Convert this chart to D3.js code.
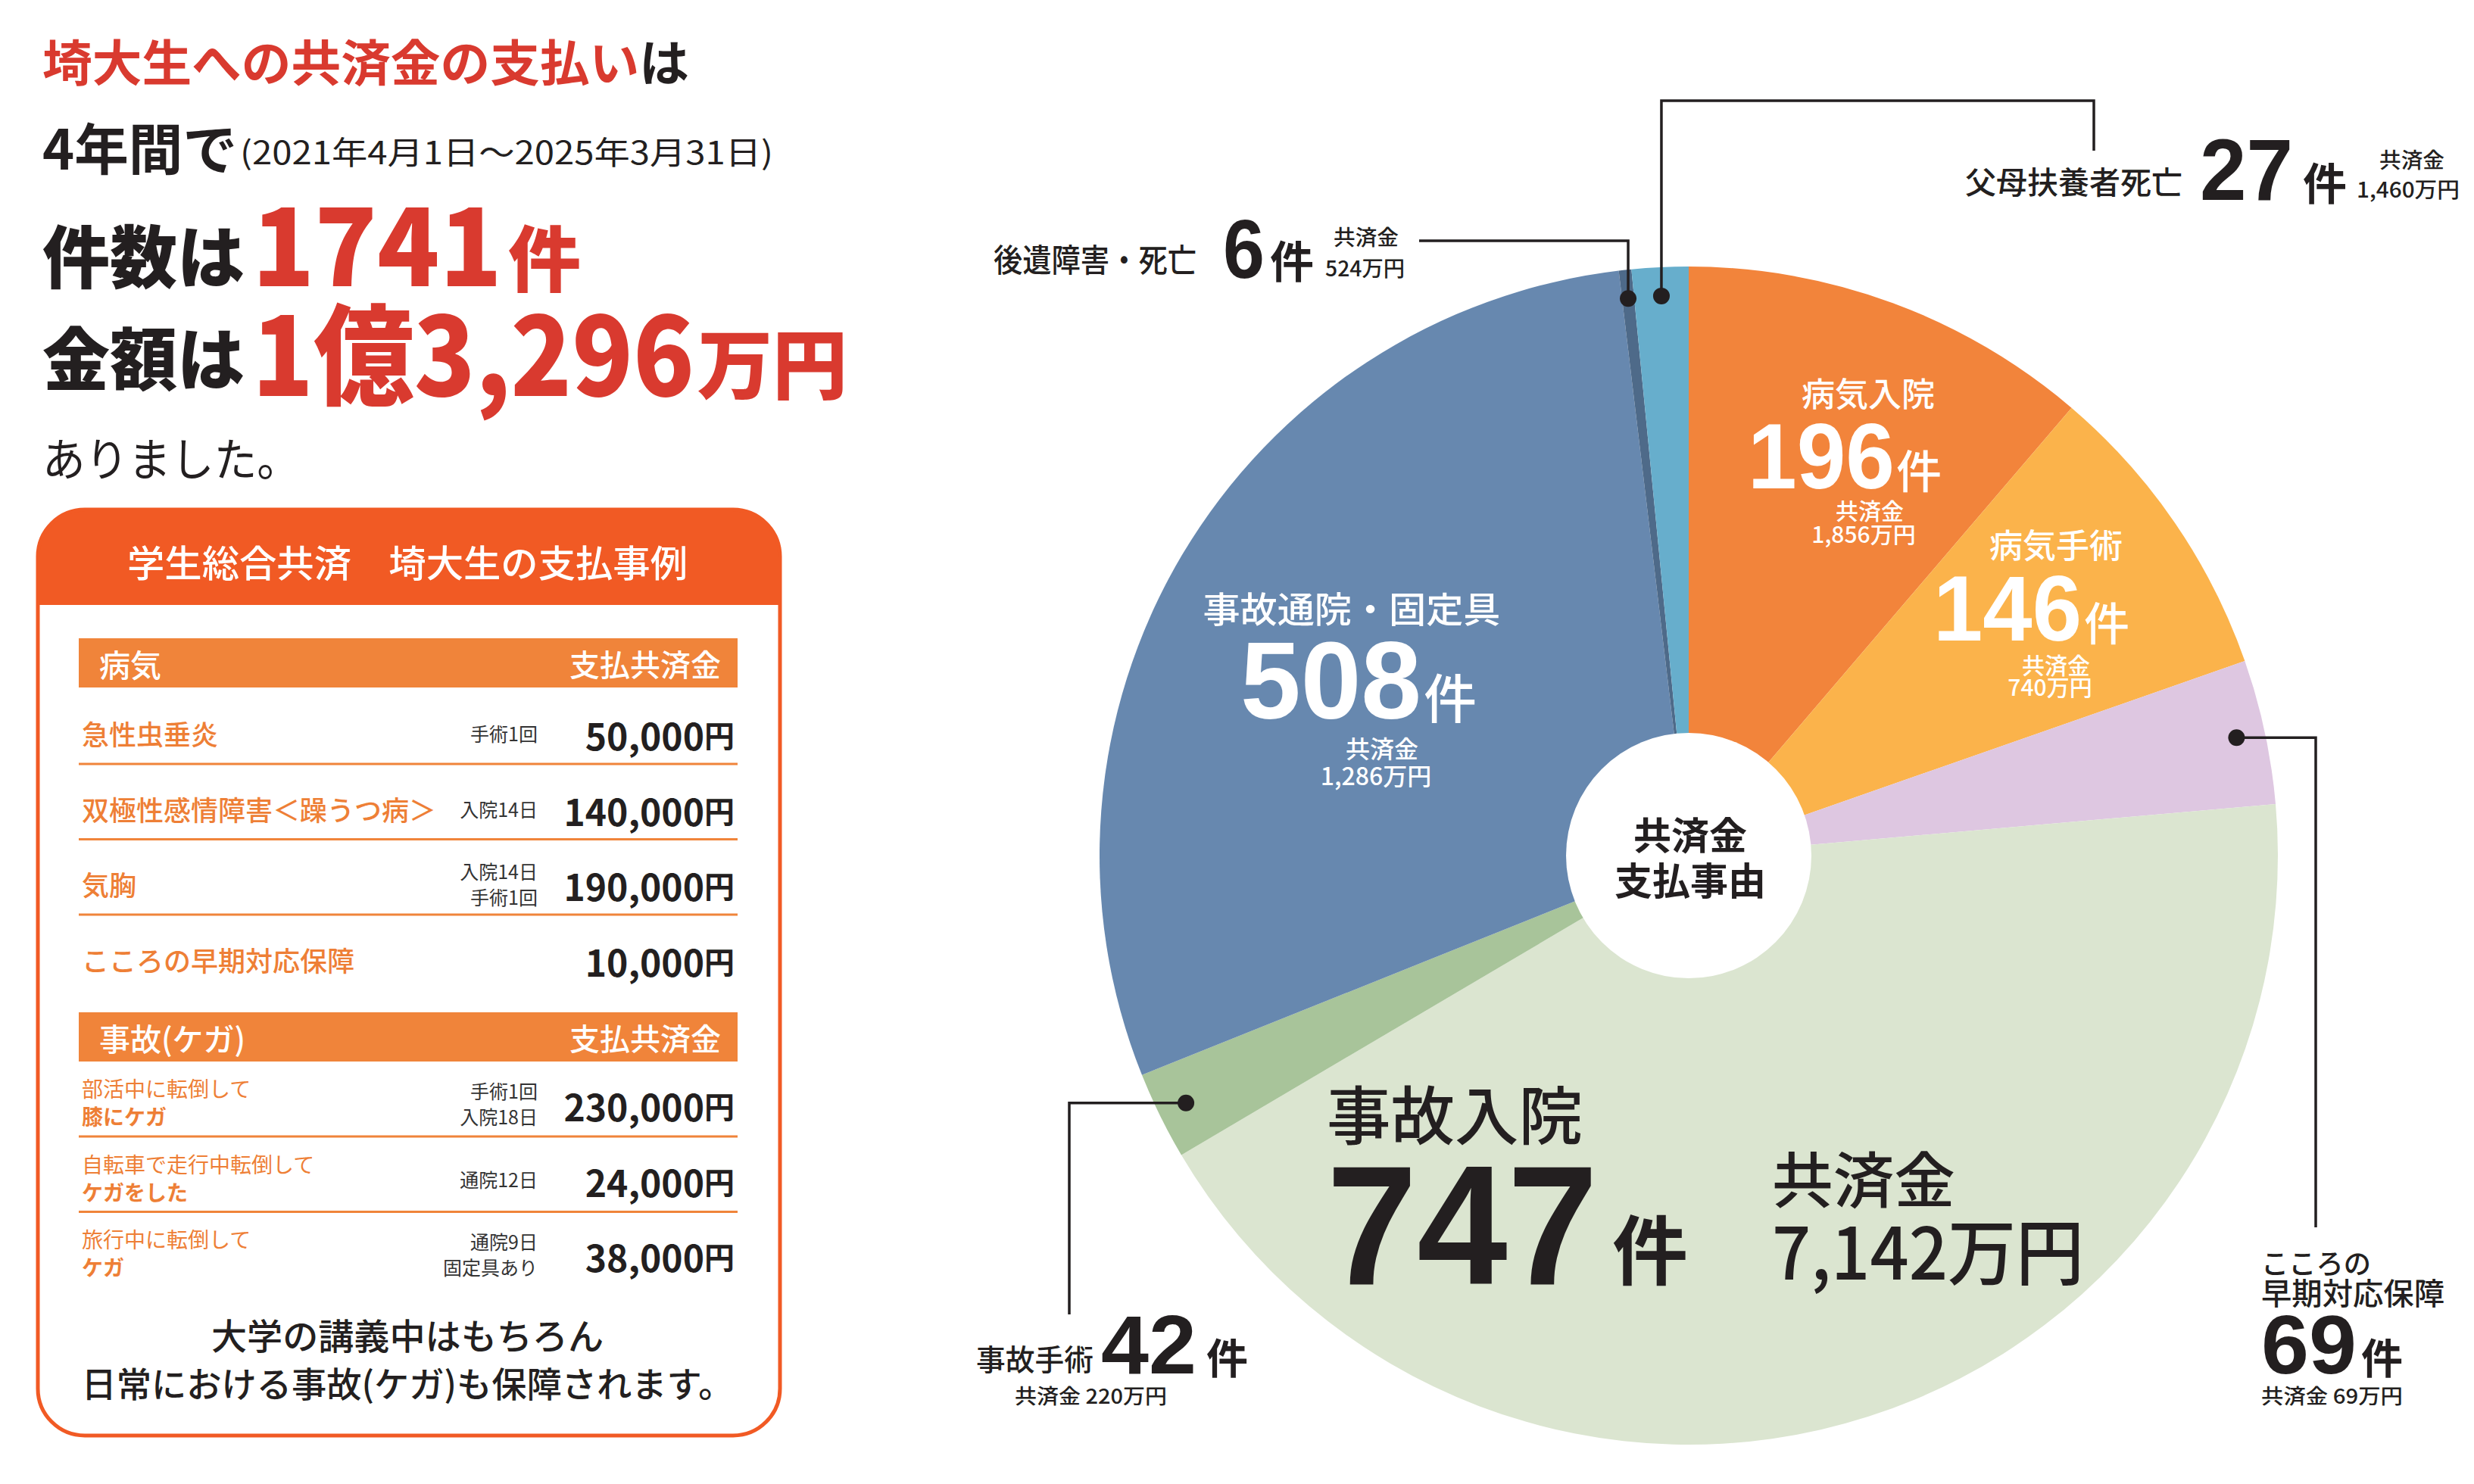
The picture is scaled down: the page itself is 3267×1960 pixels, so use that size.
<!DOCTYPE html>
<html lang="ja">
<head>
<meta charset="utf-8">
<title>埼大生への共済金の支払い</title>
<script src="https://cdn.jsdelivr.net/npm/d3@7"></script>
<style>
  html, body { margin: 0; padding: 0; background: #fff; }
  svg { display: block; }
</style>
</head>
<body>
<script>
// --- data -----------------------------------------------------------
const slices = ["病気入院", "病気手術", "こころの早期対応保障", "事故入院", "事故手術", "事故通院・固定具", "後遺障害・死亡", "父母扶養者死亡"];
const counts = [196, 146, 69, 747, 42, 508, 6, 27];
const amounts = ["1,856万円", "740万円", "69万円", "7,142万円", "220万円", "1,286万円", "524万円", "1,460万円"];
const sliceColors = ["#f2843b", "#fbb34b", "#dec7e1", "#dbe5d0", "#a8c49a", "#6788af", "#4e6a89", "#67aecc"];

const totalAmount = "1億3,296万円";
const period = "(2021年4月1日～2025年3月31日)";

const illnessNames = ["急性虫垂炎", "双極性感情障害＜躁うつ病＞", "気胸", "こころの早期対応保障"];
const illnessDetails = [["手術1回"], ["入院14日"], ["入院14日", "手術1回"], []];
const illnessPaid = ["50,000", "140,000", "190,000", "10,000"];

const injuryLead = ["部活中に転倒して", "自転車で走行中転倒して", "旅行中に転倒して"];
const injuryWhat = ["膝にケガ", "ケガをした", "ケガ"];
const injuryDetails = [["手術1回", "入院18日"], ["通院12日"], ["通院9日", "固定具あり"]];
const injuryPaid = ["230,000", "24,000", "38,000"];

// --- setup ----------------------------------------------------------
const W = 3267, H = 1960;
const FONT = "'Noto Sans CJK JP','Noto Sans',sans-serif";
const NUMFONT = "'Liberation Sans','Noto Sans CJK JP',sans-serif";
const INK = "#231f20", RED = "#d93a2f", HEAD = "#f15a24", BAR = "#f0843a", ROWTXT = "#ee7f36";

const svg = d3.select("body").append("svg")
    .attr("width", W)
    .attr("height", H)
    .attr("font-family", FONT);

svg.append("rect").attr("width", W).attr("height", H).attr("fill", "#fff");

// text helper: o = {x, y, t, size, weight, fill, anchor, base, w, font}
function put(g, o) {
    const t = g.append("text")
        .attr("x", o.x)
        .attr("y", o.y)
        .attr("font-size", o.size)
        .attr("font-weight", o.weight || 400)
        .attr("fill", o.fill || INK)
        .attr("text-anchor", o.anchor || "start")
        .attr("dominant-baseline", o.base || "central")
        .text(o.t);
    if (o.font) t.attr("font-family", o.font);
    if (o.w) t.attr("textLength", o.w).attr("lengthAdjust", "spacingAndGlyphs");
    return t;
}

// several runs in one line
function runs(g, x, y, parts, opts = {}) {
    const t = g.append("text")
        .attr("x", x)
        .attr("y", y)
        .attr("fill", opts.fill || INK)
        .attr("text-anchor", opts.anchor || "start")
        .attr("dominant-baseline", opts.base || "alphabetic");
    parts.forEach(p => {
        const s = t.append("tspan")
            .attr("font-size", p.size)
            .attr("font-weight", p.weight || 400)
            .attr("fill", p.fill || null)
            .text(p.t);
        if (p.font) s.attr("font-family", p.font);
    });
    if (opts.w) t.attr("textLength", opts.w).attr("lengthAdjust", "spacingAndGlyphs");
    return t;
}

// --- left headline --------------------------------------------------
const head = svg.append("g");
runs(head, 56, 79, [
    { t: "埼大生への共済金の支払い", size: 65, weight: 700, fill: RED },
    { t: "は", size: 65, weight: 700 }
], { base: "central", w: 854 });

put(head, { x: 56, y: 192, t: "4年間で", size: 73, weight: 700, w: 257 });
put(head, { x: 317, y: 198, t: period, size: 42, weight: 400, w: 704 });

const totalCount = d3.sum(counts);
put(head, { x: 56, y: 334, t: "件数は", size: 90, weight: 900, w: 267 });
put(head, { x: 333, y: 317, t: String(totalCount), size: 140, weight: 900, fill: RED, w: 330 });
put(head, { x: 671, y: 336, t: "件", size: 95, weight: 900, fill: RED, w: 96 });

const amtMain = totalAmount.replace("万円", "");
put(head, { x: 56, y: 469, t: "金額は", size: 90, weight: 900, w: 267 });
put(head, { x: 333, y: 460, t: amtMain, size: 144, weight: 900, fill: RED, w: 584 });
put(head, { x: 921, y: 475, t: "万円", size: 100, weight: 900, fill: RED, w: 198 });

put(head, { x: 56, y: 602, t: "ありました。", size: 60, weight: 400, w: 340 });

// --- example box ----------------------------------------------------
const box = { x: 50, y: 673, w: 980, h: 1223, r: 62, headH: 126 };
const bx = svg.append("g");
svg.append("defs").append("clipPath").attr("id", "boxclip")
    .append("rect")
    .attr("x", box.x).attr("y", box.y)
    .attr("width", box.w).attr("height", box.h)
    .attr("rx", box.r);

bx.append("rect")
    .attr("x", box.x).attr("y", box.y)
    .attr("width", box.w).attr("height", box.headH)
    .attr("fill", HEAD)
    .attr("clip-path", "url(#boxclip)");
bx.append("rect")
    .attr("x", box.x).attr("y", box.y)
    .attr("width", box.w).attr("height", box.h)
    .attr("rx", box.r)
    .attr("fill", "none")
    .attr("stroke", HEAD)
    .attr("stroke-width", 5);

put(bx, { x: 538, y: 740, t: "学生総合共済　埼大生の支払事例", size: 49, weight: 500, fill: "#fff", anchor: "middle", w: 740 });

const tbl = { x0: 104, x1: 974, detailX: 710, amtX: 970, rowH: 99.5 };

function sectionBar(y, label) {
    bx.append("rect")
        .attr("x", tbl.x0).attr("y", y)
        .attr("width", tbl.x1 - tbl.x0).attr("height", 65)
        .attr("fill", BAR);
    put(bx, { x: 131, y: y + 33, t: label, size: 41, weight: 500, fill: "#fff" });
    put(bx, { x: 952, y: y + 33, t: "支払共済金", size: 40, weight: 500, fill: "#fff", anchor: "end" });
}

function amount(y, val) {
    runs(bx, tbl.amtX, y, [
        { t: val, size: 48, weight: 700 },
        { t: "円", size: 40, weight: 700 }
    ], { anchor: "end", base: "central" });
}

function details(y, list) {
    const gap = 34;
    list.forEach((d, j) => {
        put(bx, { x: tbl.detailX, y: y + (j - (list.length - 1) / 2) * gap, t: d, size: 25, fill: "#333", anchor: "end" });
    });
}

function rule(y) {
    bx.append("line")
        .attr("x1", tbl.x0).attr("x2", tbl.x1)
        .attr("y1", y).attr("y2", y)
        .attr("stroke", BAR)
        .attr("stroke-width", 3);
}

// illness section
sectionBar(843, "病気");
illnessNames.forEach((name, i) => {
    const cy = 968 + i * tbl.rowH;
    put(bx, { x: 108, y: cy, t: name, size: 36, weight: 500, fill: ROWTXT });
    details(cy, illnessDetails[i]);
    amount(cy + 2, illnessPaid[i]);
    if (i < illnessNames.length - 1) rule(cy + 41);
});

// injury section
sectionBar(1337, "事故(ケガ)");
injuryLead.forEach((lead, i) => {
    const cy = 1457 + i * tbl.rowH;
    put(bx, { x: 108, y: cy - 20, t: lead, size: 28, weight: 400, fill: ROWTXT });
    put(bx, { x: 108, y: cy + 17, t: injuryWhat[i], size: 28, weight: 700, fill: ROWTXT });
    details(cy, injuryDetails[i]);
    amount(cy + 3, injuryPaid[i]);
    if (i < injuryLead.length - 1) rule(cy + 44);
});

put(bx, { x: 538, y: 1761, t: "大学の講義中はもちろん", size: 47, weight: 500, anchor: "middle", w: 518 });
put(bx, { x: 538, y: 1825, t: "日常における事故(ケガ)も保障されます。", size: 46, weight: 500, anchor: "middle", w: 861 });

// --- pie ------------------------------------------------------------
const CX = 2230, CY = 1130, R = 778, HOLE = 162, DOT_R = 740;
const data = slices.map((name, i) => ({ name, count: counts[i], amount: amounts[i] }));

const color = d3.scaleOrdinal().domain(slices).range(sliceColors);
const pie = d3.pie().sort(null).value(d => d.count);
const arc = d3.arc().innerRadius(0).outerRadius(R);
const dotArc = d3.arc().innerRadius(DOT_R).outerRadius(DOT_R);
const arcs = pie(data);

const pg = svg.append("g").attr("transform", `translate(${CX},${CY})`);
pg.selectAll("path.slice")
    .data(arcs)
    .enter().append("path")
    .attr("class", "slice")
    .attr("d", arc)
    .attr("fill", d => color(d.data.name));

pg.append("circle").attr("r", HOLE).attr("fill", "#fff");
put(svg, { x: CX + 2, y: 1100, t: "共済金", size: 50, weight: 700, anchor: "middle" });
put(svg, { x: CX + 2, y: 1160, t: "支払事由", size: 50, weight: 700, anchor: "middle" });

// labels inside the big slices (white)
const inside = {
    "病気入院": { tx: 2467, ty: 518, ts: 44, nx: 2308, nb: 645, ns: 123, nw: 194, kx: 2504, ks: 60, ay: 673, by: 704, ax: 2469, as: 30 },
    "病気手術": { tx: 2715, ty: 718, ts: 44, nx: 2553, nb: 846, ns: 123, nw: 196, kx: 2752, ks: 60, ay: 877, by: 906, ax: 2715, as: 30 },
    "事故通院・固定具": { tx: 1785, ty: 801, ts: 47, tw: 393, nx: 1638, nb: 949, ns: 144, nw: 239, kx: 1880, ks: 70, ay: 987, by: 1023, ax: 1825, as: 32 }
};
Object.keys(inside).forEach(name => {
    const L = inside[name], d = data.find(e => e.name === name);
    put(svg, { x: L.tx, y: L.ty, t: d.name, size: L.ts, weight: 500, fill: "#fff", anchor: "middle", w: L.tw });
    put(svg, { x: L.nx, y: L.nb, t: String(d.count), size: L.ns, weight: 700, fill: "#fff", base: "alphabetic", font: NUMFONT, w: L.nw });
    put(svg, { x: L.kx, y: L.nb, t: "件", size: L.ks, weight: 500, fill: "#fff", base: "alphabetic" });
    put(svg, { x: L.ax, y: L.ay, t: "共済金", size: L.as, weight: 500, fill: "#fff", anchor: "middle" });
    put(svg, { x: L.ax - 8, y: L.by, t: d.amount, size: L.as, weight: 500, fill: "#fff", anchor: "middle" });
});

// 事故入院 (largest slice, dark text)
{
    const d = data.find(e => e.name === "事故入院");
    put(svg, { x: 1752, y: 1468, t: d.name, size: 84, weight: 500, w: 338 });
    put(svg, { x: 1752, y: 1696, t: String(d.count), size: 225, weight: 700, base: "alphabetic", font: NUMFONT, w: 358 });
    put(svg, { x: 2129, y: 1689, t: "件", size: 100, weight: 700, base: "alphabetic" });
    put(svg, { x: 2340, y: 1553, t: "共済金", size: 80, weight: 500, w: 242 });
    put(svg, { x: 2340, y: 1648, t: d.amount, size: 95, weight: 500, w: 412 });
}

// callouts for small slices
const callouts = {
    "後遺障害・死亡": { path: [["V", 318], ["H", 1874]] },
    "父母扶養者死亡": { path: [["V", 133], ["H", 2765], ["V", 199]] },
    "こころの早期対応保障": { path: [["H", 3058], ["V", 1621]] },
    "事故手術": { path: [["H", 1412], ["V", 1736]] }
};
arcs.forEach(a => {
    const c = callouts[a.data.name];
    if (!c) return;
    const [dx, dy] = dotArc.centroid(a);
    const px = CX + dx, py = CY + dy;
    const p = d3.path();
    p.moveTo(px, py);
    let x = px, y = py;
    c.path.forEach(([k, v]) => {
        if (k === "V") y = v; else x = v;
        p.lineTo(x, y);
    });
    svg.append("path")
        .attr("d", p.toString())
        .attr("fill", "none")
        .attr("stroke", INK)
        .attr("stroke-width", 3.5);
    svg.append("circle")
        .attr("cx", px).attr("cy", py)
        .attr("r", 11)
        .attr("fill", INK);
});

const byName = n => data.find(e => e.name === n);

// 後遺障害・死亡
{
    const d = byName("後遺障害・死亡");
    put(svg, { x: 1312, y: 340, t: d.name, size: 42, weight: 500, w: 268 });
    put(svg, { x: 1615, y: 367, t: String(d.count), size: 110, weight: 700, base: "alphabetic", font: NUMFONT, w: 55 });
    put(svg, { x: 1677, y: 367, t: "件", size: 58, weight: 700, base: "alphabetic" });
    put(svg, { x: 1761, y: 312, t: "共済金", size: 28, weight: 500, w: 86 });
    put(svg, { x: 1750, y: 353, t: d.amount, size: 28, weight: 500, w: 105 });
}
// 父母扶養者死亡
{
    const d = byName("父母扶養者死亡");
    put(svg, { x: 2595, y: 238, t: d.name, size: 41, weight: 500, w: 287 });
    put(svg, { x: 2905, y: 264, t: String(d.count), size: 115, weight: 700, base: "alphabetic", font: NUMFONT, w: 123 });
    put(svg, { x: 3041, y: 264, t: "件", size: 58, weight: 700, base: "alphabetic" });
    put(svg, { x: 3142, y: 210, t: "共済金", size: 28, weight: 500, w: 86 });
    put(svg, { x: 3112, y: 249, t: d.amount, size: 28, weight: 500, w: 136 });
}
// 事故手術
{
    const d = byName("事故手術");
    put(svg, { x: 1289, y: 1793, t: d.name, size: 39, weight: 500, w: 155 });
    put(svg, { x: 1454, y: 1814, t: String(d.count), size: 110, weight: 700, base: "alphabetic", font: NUMFONT, w: 126 });
    put(svg, { x: 1593, y: 1814, t: "件", size: 55, weight: 700, base: "alphabetic" });
    put(svg, { x: 1340, y: 1842, t: "共済金 " + d.amount, size: 27, weight: 500, w: 201 });
}
// こころの早期対応保障
{
    const d = byName("こころの早期対応保障");
    put(svg, { x: 2986, y: 1667, t: "こころの", size: 37, weight: 500, w: 145 });
    put(svg, { x: 2986, y: 1706, t: "早期対応保障", size: 40, weight: 500, w: 242 });
    put(svg, { x: 2986, y: 1814, t: String(d.count), size: 110, weight: 700, base: "alphabetic", font: NUMFONT, w: 126 });
    put(svg, { x: 3118, y: 1814, t: "件", size: 55, weight: 700, base: "alphabetic" });
    put(svg, { x: 2986, y: 1842, t: "共済金 " + d.amount, size: 27, weight: 500, w: 187 });
}
</script>
</body>
</html>
